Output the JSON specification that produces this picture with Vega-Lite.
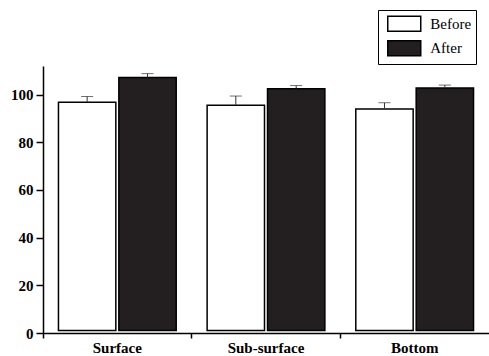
{
  "$schema": "https://vega.github.io/schema/vega-lite/v6.json",
  "width": 446,
  "height": 267,
  "padding": {"left": 43, "top": 66, "right": 0, "bottom": 23},
  "autosize": {"type": "none"},
  "background": "white",
  "config": {
    "view": {"stroke": null},
    "font": "Liberation Serif"
  },
  "data": {
    "values": [
      {"site": "Surface", "period": "Before", "mean": 96.8, "upper": 99.2},
      {"site": "Surface", "period": "After", "mean": 107.2, "upper": 108.8},
      {"site": "Sub-surface", "period": "Before", "mean": 95.5, "upper": 99.4},
      {"site": "Sub-surface", "period": "After", "mean": 102.5, "upper": 103.8},
      {"site": "Bottom", "period": "Before", "mean": 94.0, "upper": 96.6},
      {"site": "Bottom", "period": "After", "mean": 102.8, "upper": 104.0}
    ]
  },
  "encoding": {
    "x": {
      "field": "site",
      "type": "nominal",
      "sort": ["Surface", "Sub-surface", "Bottom"],
      "scale": {"paddingInner": 0, "paddingOuter": 0},
      "axis": {
        "title": null,
        "labelAngle": 0,
        "bandPosition": 0,
        "labelFont": "Liberation Serif",
        "labelFontSize": 15,
        "labelFontWeight": "bold",
        "labelColor": "black",
        "labelPadding": 2,
        "domainColor": "black",
        "domainWidth": 1.5,
        "tickColor": "black",
        "tickWidth": 1.5,
        "tickSize": 5
      }
    },
    "xOffset": {
      "field": "period",
      "type": "nominal",
      "sort": ["Before", "After"],
      "scale": {"paddingInner": 0.05, "paddingOuter": 0.256}
    }
  },
  "layer": [
    {
      "mark": {"type": "bar", "stroke": "black", "strokeWidth": 1.5},
      "encoding": {
        "y": {
          "field": "mean",
          "type": "quantitative",
          "scale": {"domain": [0, 112], "nice": false},
          "axis": {
            "title": null,
            "values": [0, 10, 20, 30, 40, 50, 60, 70, 80, 90, 100, 110],
            "labelExpr": "datum.value % 20 === 0 ? datum.label : ''",
            "grid": false,
            "labelFont": "Liberation Serif",
            "labelFontSize": 15,
            "labelFontWeight": "bold",
            "labelColor": "black",
            "labelPadding": 3,
            "domainColor": "black",
            "domainWidth": 1.5,
            "tickColor": "black",
            "tickWidth": 1.5,
            "tickSize": {"expr": "datum.value % 20 === 0 ? 7 : 4"}
          }
        },
        "y2": {"datum": 1},
        "fill": {
          "field": "period",
          "type": "nominal",
          "scale": {"domain": ["Before", "After"], "range": ["white", "#231f20"]},
          "legend": {
            "title": null,
            "orient": "none",
            "legendX": 335,
            "legendY": -56,
            "direction": "vertical",
            "strokeColor": "black",
            "padding": 4.75,
            "symbolType": "M-2,-0.9H2V0.9H-2Z",
            "symbolSize": 272,
            "symbolOffset": 12.5,
            "symbolStrokeColor": "black",
            "symbolStrokeWidth": 1.5,
            "labelFont": "Liberation Serif",
            "labelFontSize": 15,
            "labelColor": "black",
            "labelOffset": 17,
            "rowPadding": 2.5
          }
        }
      }
    },
    {
      "mark": {"type": "rule", "color": "#333333", "strokeWidth": 1},
      "encoding": {
        "y": {"field": "mean", "type": "quantitative"},
        "y2": {"field": "upper"}
      }
    },
    {
      "mark": {"type": "tick", "color": "#333333", "thickness": 1, "size": 12, "orient": "horizontal"},
      "encoding": {
        "y": {"field": "upper", "type": "quantitative"}
      }
    }
  ]
}
